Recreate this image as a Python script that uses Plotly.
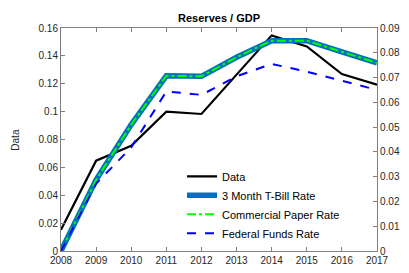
import plotly.graph_objects as go

years = [2008, 2009, 2010, 2011, 2012, 2013, 2014, 2015, 2016, 2017]
data_vals = [0.0153, 0.0648, 0.0755, 0.1000, 0.0983, 0.1265, 0.1547, 0.1468, 0.1270, 0.1193]
tbill_vals = [0.0000, 0.0287, 0.0510, 0.0707, 0.0705, 0.0782, 0.0849, 0.0849, 0.0804, 0.0759]
cp_vals = [0.0000, 0.0287, 0.0510, 0.0707, 0.0705, 0.0782, 0.0849, 0.0849, 0.0804, 0.0759]
ff_vals = [0.0000, 0.0272, 0.0418, 0.0644, 0.0630, 0.0705, 0.0755, 0.0724, 0.0687, 0.0650]

FONT = "Liberation Sans, Arial, Helvetica, sans-serif"
AXC = "#808080"
TXT = "#262626"

fig = go.Figure()
fig.add_trace(go.Scatter(x=years, y=data_vals, name="Data", mode="lines",
                         line=dict(color="black", width=2.2), yaxis="y"))
fig.add_trace(go.Scatter(x=years, y=tbill_vals, name="3 Month T-Bill Rate", mode="lines",
                         line=dict(color="#0072BD", width=5.5), yaxis="y2"))
fig.add_trace(go.Scatter(x=years, y=cp_vals, name="Commercial Paper Rate", mode="lines",
                         line=dict(color="#00FF00", width=2, dash="dashdot"), yaxis="y2"))
fig.add_trace(go.Scatter(x=years, y=ff_vals, name="Federal Funds Rate", mode="lines",
                         line=dict(color="#0000FF", width=2, dash="dash"), yaxis="y2"))

fig.update_layout(
    width=409, height=273,
    margin=dict(l=53, r=40, t=20, b=30),
    paper_bgcolor="white", plot_bgcolor="white",
    font=dict(family=FONT, size=10, color=TXT),
    title=dict(text="<b>Reserves / GDP</b>", x=0.516, xanchor="center", y=0.963, yanchor="middle",
               font=dict(size=11, color="black")),
    showlegend=True,
    legend=dict(x=0.383, y=0.40, xanchor="left", yanchor="top", bgcolor="rgba(255,255,255,0)",
                font=dict(size=11, color="black"), tracegroupgap=0, itemwidth=30),
    xaxis=dict(range=[2008, 2017], tickvals=years, ticks="inside", ticklen=4, tickcolor=AXC,
               showline=True, linecolor=AXC, linewidth=1, mirror="ticks", showgrid=False,
               zeroline=False, automargin=False,
               tickfont=dict(size=10, color=TXT)),
    yaxis=dict(range=[0, 0.16], dtick=0.02, tick0=0, ticks="inside", ticklen=4, tickcolor=AXC,
               showline=True, linecolor=AXC, linewidth=1, showgrid=False, zeroline=False,
               automargin=False, tickfont=dict(size=10, color=TXT)),
    yaxis2=dict(range=[0, 0.09], dtick=0.01, tick0=0, ticks="inside", ticklen=4, tickcolor=AXC,
                showline=True, linecolor=AXC, linewidth=1, showgrid=False, zeroline=False,
                overlaying="y", side="right", automargin=False,
                tickfont=dict(size=10, color=TXT)),
    annotations=[
        dict(text="Data", xref="paper", yref="paper", x=-0.145, y=0.5, xanchor="center",
             yanchor="middle", textangle=-90, showarrow=False, font=dict(size=10, color=TXT)),
        dict(text="Model", xref="paper", yref="paper", x=1.09, y=0.5, xanchor="center",
             yanchor="middle", textangle=-90, showarrow=False, font=dict(size=9.5, color=TXT)),
    ],
)

fig.write_html("out.html")
